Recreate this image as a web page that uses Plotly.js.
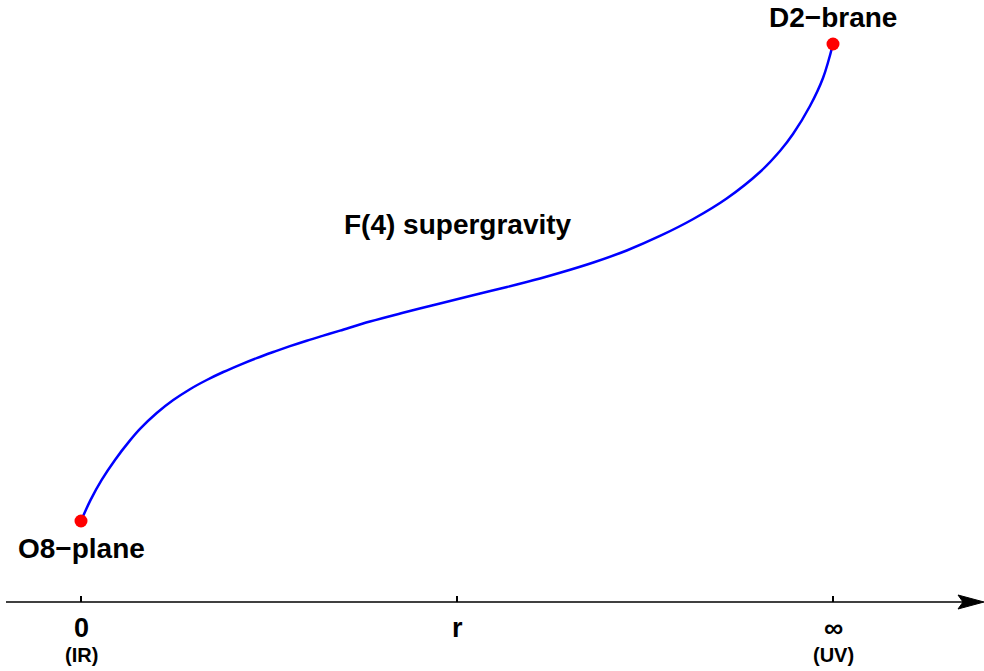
<!DOCTYPE html>
<html>
<head>
<meta charset="utf-8">
<script src="https://cdn.plot.ly/plotly-3.0.1.min.js"></script>
<style>html,body{margin:0;padding:0;background:#fff;}#chart{width:984px;height:671px;}</style>
</head>
<body>
<div id="chart"></div>
<script>
// Curve (normalized: x from IR=0 to UV=1, y from O8-plane=0 to D2-brane=1)
var curveX = [0, 0.0126, 0.0275, 0.0452, 0.0652, 0.0785, 0.1007, 0.1227, 0.1449, 0.1672, 0.1892, 0.2114, 0.2336, 0.2557, 0.2779, 0.3001, 0.3222, 0.3444, 0.3843, 0.4282, 0.4774, 0.5173, 0.5665, 0.6104, 0.6370, 0.6813, 0.7257, 0.7699, 0.8142, 0.8586, 0.9029, 0.9295, 0.9468, 0.9694, 0.9867, 1];
var curveY = [0, 0.0438, 0.0862, 0.1281, 0.1690, 0.1931, 0.2264, 0.2535, 0.2763, 0.2956, 0.3124, 0.3275, 0.3415, 0.3543, 0.3665, 0.3780, 0.3887, 0.3992, 0.4182, 0.4365, 0.4560, 0.4717, 0.4906, 0.5084, 0.5203, 0.5419, 0.5671, 0.5975, 0.6331, 0.6761, 0.7317, 0.7757, 0.8113, 0.8700, 0.9287, 1];
var endX = [0, 1];
var endY = [0, 1];
var endLabels = ["O8\u2212plane", "D2\u2212brane"];
var tickPos = [0, 0.5, 1];
var tickLabels = ["0", "r", "\u221e"];
var tickSubLabels = ["(IR)", "", "(UV)"];
var regionLabel = "F(4) supergravity";

// pixel helpers for the 984x671 frame
var W = 984, H = 671;
function px2x(px){ return (px - 81) / 752; }
function py2y(py){ return (521 - py) / 477; }

var font = "Liberation Sans, Arial, Helvetica, sans-serif";
var axisY = py2y(602);

var traces = [
  {x: curveX, y: curveY, mode: 'lines', line: {color: '#0000ff', width: 2.5, shape: 'spline', smoothing: 1}, hoverinfo: 'skip'},
  {x: endX, y: endY, mode: 'markers', marker: {color: '#ff0000', size: 13}, hoverinfo: 'skip'}
];

var shapes = [
  {type: 'line', xref: 'x', yref: 'y', x0: px2x(6), x1: px2x(965), y0: axisY, y1: axisY, line: {color: '#000', width: 1.5}},
  {type: 'path', xref: 'x', yref: 'y', path: 'M ' + px2x(958) + ' ' + py2y(595) + ' L ' + px2x(984) + ' ' + axisY + ' L ' + px2x(958) + ' ' + py2y(609) + ' L ' + px2x(963) + ' ' + axisY + ' Z', fillcolor: '#000', line: {color: '#000', width: 1}}
];
tickPos.forEach(function(t){
  shapes.push({type: 'line', xref: 'x', yref: 'y', x0: t, x1: t, y0: axisY, y1: py2y(596), line: {color: '#000', width: 2}});
});

var annotations = [];
var endOffsets = [[81, 548], [833, 17]];
endLabels.forEach(function(l, i){
  annotations.push({x: px2x(endOffsets[i][0]), y: py2y(endOffsets[i][1]), xref: 'x', yref: 'y', text: '<b>' + l + '</b>', showarrow: false, font: {family: font, size: 28, color: '#000'}, xanchor: 'center', yanchor: 'middle'});
});
annotations.push({x: px2x(458), y: py2y(224), xref: 'x', yref: 'y', text: '<b>' + regionLabel + '</b>', showarrow: false, font: {family: font, size: 28, color: '#000'}, xanchor: 'center', yanchor: 'middle'});
tickPos.forEach(function(t, i){
  annotations.push({x: t, y: py2y(628), xref: 'x', yref: 'y', text: '<b>' + tickLabels[i] + '</b>', showarrow: false, font: {family: font, size: 27, color: '#000'}, xanchor: 'center', yanchor: 'middle'});
  if (tickSubLabels[i]) {
    annotations.push({x: t, y: py2y(655), xref: 'x', yref: 'y', text: '<b>' + tickSubLabels[i] + '</b>', showarrow: false, font: {family: font, size: 20, color: '#000'}, xanchor: 'center', yanchor: 'middle'});
  }
});

var layout = {
  width: W, height: H,
  margin: {l: 0, r: 0, t: 0, b: 0},
  paper_bgcolor: '#fff', plot_bgcolor: '#fff',
  showlegend: false,
  xaxis: {range: [px2x(0), px2x(W)], visible: false, fixedrange: true},
  yaxis: {range: [py2y(H), py2y(0)], visible: false, fixedrange: true},
  shapes: shapes,
  annotations: annotations
};

Plotly.newPlot('chart', traces, layout, {staticPlot: true, displayModeBar: false});
</script>
</body>
</html>
